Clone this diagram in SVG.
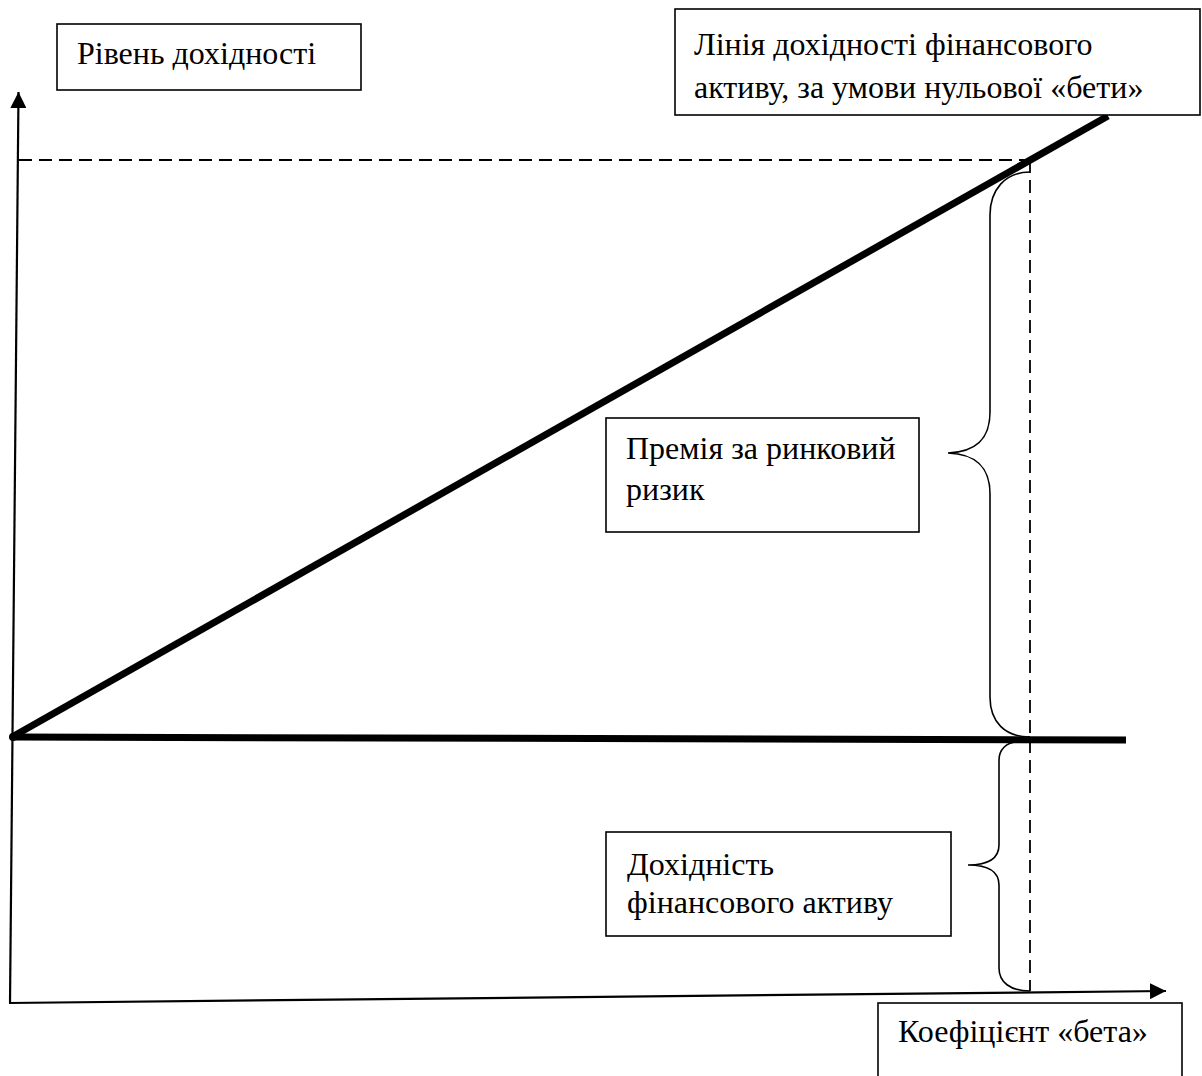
<svg xmlns="http://www.w3.org/2000/svg" width="1202" height="1076" viewBox="0 0 1202 1076">
  <style>
    .box { fill: #fff; stroke: #000; stroke-width: 1.6; }
    .lbl { font-family: "Liberation Serif", "Times New Roman", serif; font-size: 32px; fill: #000; }
    .axis { stroke: #000; stroke-width: 2.2; fill: none; }
    .thick { stroke: #000; stroke-width: 7; fill: none; stroke-linecap: butt; }
    .dash { stroke: #000; stroke-width: 1.8; fill: none; stroke-dasharray: 13 7; }
    .brace { stroke: #000; stroke-width: 1.6; fill: none; }
  </style>
  <defs>
    <marker id="arrowBig" viewBox="0 0 16 16" refX="16" refY="8" markerWidth="16" markerHeight="16" markerUnits="userSpaceOnUse" orient="auto">
      <path d="M0,0 L16,8 L0,16 z" fill="#000"/>
    </marker>
  </defs>

  <rect width="1202" height="1076" fill="#fff"/>

  <g id="connectors">
    <!-- axes -->
    <line class="axis" x1="10" y1="1003" x2="18.5" y2="92" marker-end="url(#arrowBig)"/>
    <line class="axis" x1="9" y1="1003" x2="1166" y2="991" marker-end="url(#arrowBig)"/>
    <!-- dashed guides -->
    <line class="dash" x1="19" y1="160" x2="1030" y2="160"/>
    <line class="dash" x1="1030" y1="160" x2="1030" y2="991"/>
    <!-- return lines -->
    <line class="thick" x1="12" y1="737" x2="1108" y2="116"/>
    <line class="thick" x1="12" y1="737" x2="1126" y2="740"/>
    <circle cx="13" cy="737" r="4" fill="#000"/>
    <!-- upper brace: market risk premium -->
    <path class="brace" d="M1030,172 C1005,172 990,190 990,215 L990,412 C990,440 975,452 948,453 C975,454 990,466 990,494 L990,697 C990,722 1005,737 1030,737"/>
    <!-- lower brace: asset return -->
    <path class="brace" d="M1018,742 C1006,742 999,750 999,760 L999,845 C999,858 990,865 968,865 C990,865 999,872 999,885 L999,968 C999,982 1010,991 1030,991"/>
  </g>

  <g id="node-y-label">
    <rect class="box" x="57" y="24" width="304" height="66"/>
    <text class="lbl" x="77" y="64">Рівень дохідності</text>
  </g>

  <g id="node-line-label">
    <rect class="box" x="675" y="9" width="525" height="106"/>
    <text class="lbl" x="694" y="55">Лінія дохідності фінансового</text>
    <text class="lbl" x="694" y="98">активу, за умови нульової «бети»</text>
  </g>

  <g id="node-premium">
    <rect class="box" x="606" y="418" width="313" height="114"/>
    <text class="lbl" x="626" y="459">Премія за ринковий</text>
    <text class="lbl" x="626" y="500">ризик</text>
  </g>

  <g id="node-asset-return">
    <rect class="box" x="606" y="832" width="345" height="104"/>
    <text class="lbl" x="627" y="875">Дохідність</text>
    <text class="lbl" x="627" y="913">фінансового активу</text>
  </g>

  <g id="node-x-label">
    <rect class="box" x="878" y="1003" width="304" height="100"/>
    <text class="lbl" x="898" y="1042">Коефіцієнт «бета»</text>
  </g>
</svg>
